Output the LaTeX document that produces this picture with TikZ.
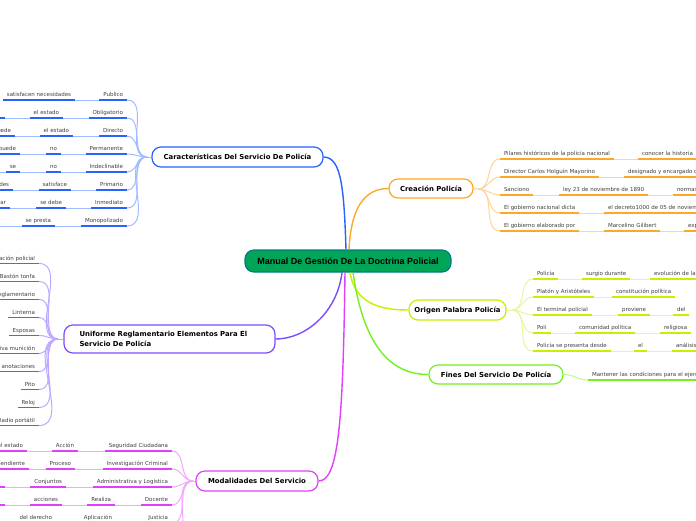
\documentclass[tikz,border=0pt]{standalone}
\usepackage{fontspec}
\usetikzlibrary{calc}
\newfontfamily\lfont{DejaVu Sans}
\newfontfamily\mfont{Liberation Sans}
\definecolor{cblue}{RGB}{41,98,255}
\definecolor{cbluel}{RGB}{160,188,255}
\definecolor{corange}{RGB}{255,167,38}
\definecolor{corangel}{RGB}{255,212,150}
\definecolor{cpurple}{RGB}{124,77,255}
\definecolor{cpurplel}{RGB}{190,168,255}
\definecolor{cmag}{RGB}{224,64,251}
\definecolor{cmagl}{RGB}{242,168,252}
\definecolor{cyel}{RGB}{198,240,0}
\definecolor{cyell}{RGB}{228,248,150}
\definecolor{cgreen}{RGB}{118,240,30}
\definecolor{cgreenl}{RGB}{185,250,140}
\definecolor{mainfill}{RGB}{0,165,88}
\definecolor{maindraw}{RGB}{0,125,135}
\begin{document}
\begin{tikzpicture}[x=1pt,y=-1pt,
  mainnode/.style={rounded corners=9pt, fill=mainfill, draw=maindraw, line width=1.2pt,
    font=\mfont\bfseries\fontsize{9}{10}\selectfont, minimum width=206pt, minimum height=22pt, inner sep=0pt},
  branch/.style={rounded corners=9pt, draw=#1, fill=white, line width=1.2pt,
    font=\lfont\bfseries\fontsize{6.9}{10.5}\selectfont, inner sep=0pt},
  leaf/.style={font=\lfont\fontsize{5.5}{6}\selectfont, text=black!75, inner xsep=4pt, inner ysep=2.3pt,
    text height=4.1pt, text depth=1.2pt, outer sep=0pt,
    append after command={(\tikzlastnode.south west) edge[draw=#1, line width=1.5pt] (\tikzlastnode.south east)}},
  conn/.style={draw=#1, line width=1pt},
  trunk/.style={draw=#1, line width=1.4pt}
]
\useasboundingbox (0,0) rectangle (696,520);
\clip (0,0) rectangle (696,520);
\fill[white] (0,0) rectangle (696,520);

% ---------- main and branch nodes
\node[mainnode] (main) at (348,261) {Manual De Gestión De La Doctrina Policial};
\node[branch=cblue, minimum width=171pt, minimum height=20pt] (car) at (237.5,157) {Características Del Servicio De Policía};
\node[branch=corange, minimum width=84pt, minimum height=19pt] (cre) at (431,188.5) {Creación Policía};
\node[branch=cyel, minimum width=97pt, minimum height=20pt] (ori) at (457.5,310) {Origen Palabra Policía};
\node[branch=cgreen, minimum width=134pt, minimum height=19pt] (fin) at (496,374.5) {Fines Del Servicio De Policía};
\node[branch=cpurple, minimum width=211pt, minimum height=28pt, align=left, text width=180pt] (uni) at (169.5,339) {Uniforme Reglamentario Elementos Para El\\Servicio De Policía};
\node[branch=cmag, minimum width=122pt, minimum height=20pt] (mod) at (257,481) {Modalidades Del Servicio};

% ---------- trunks
\draw[trunk=cblue] ($(main.north)+(-2,0)$) .. controls +(-2,-60) and +(18,0) .. (car.east);
\draw[trunk=corange] ($(main.north)+(1,0)$) .. controls +(2,-40) and +(-25,0) .. (cre.west);
\draw[trunk=cpurple] ($(main.south)+(-6,0)$) .. controls +(-5,40) and +(30,0) .. (uni.east);
\draw[trunk=cmag] ($(main.south)+(-3,0)$) .. controls +(-2,150) and +(20,0) .. (mod.east);
\draw[trunk=cyel] ($(main.south)+(2,0)$) .. controls +(5,30) and +(-30,0) .. (ori.west);
\draw[trunk=cgreen] ($(main.south)+(5,0)$) .. controls +(10,70) and +(-40,0) .. (fin.west);

% ---------- Caracteristicas leaves
\coordinate (jc) at (147,157);
\node[leaf=cblue, anchor=south east] (c1a) at (127,100) {Publico};
\node[leaf=cblue, anchor=south east] (c1b) at (75,100) {satisfacen necesidades};
\node[leaf=cblue, anchor=south east] (c2a) at (127,118) {Obligatorio};
\node[leaf=cblue, anchor=south east] (c2b) at (63,118) {el estado};
\node[leaf=cblue, anchor=south east, minimum width=30pt] (c2c) at (5,118) {};
\node[leaf=cblue, anchor=south east] (c3a) at (127,136) {Directo};
\node[leaf=cblue, anchor=south east] (c3b) at (73,136) {el estado};
\node[leaf=cblue, anchor=south east] (c3c) at (15,136) {puede};
\node[leaf=cblue, anchor=south east] (c4a) at (127,154) {Permanente};
\node[leaf=cblue, anchor=south east] (c4b) at (61,154) {no};
\node[leaf=cblue, anchor=south east] (c4c) at (20,154) {puede};
\node[leaf=cblue, anchor=south east] (c5a) at (127,172) {Indeclinable};
\node[leaf=cblue, anchor=south east] (c5b) at (61,172) {no};
\node[leaf=cblue, anchor=south east] (c5c) at (20,172) {se};
\coordinate (c5d) at (-10,172);
\node[leaf=cblue, anchor=south east] (c6a) at (127,190) {Primario};
\node[leaf=cblue, anchor=south east] (c6b) at (71,190) {satisface};
\node[leaf=cblue, anchor=south east] (c6c) at (13,190) {necesidades};
\node[leaf=cblue, anchor=south east] (c7a) at (127,208) {Inmediato};
\node[leaf=cblue, anchor=south east] (c7b) at (66,208) {se debe};
\node[leaf=cblue, anchor=south east] (c7c) at (10,208) {prestar};
\node[leaf=cblue, anchor=south east] (c8a) at (127,226) {Monopolizado};
\node[leaf=cblue, anchor=south east] (c8b) at (55,226) {se presta};
\coordinate (c8c) at (-10,226);
\draw[conn=cbluel] (car.west) -- (jc);
\foreach \r in {1,...,8} \draw[conn=cbluel] (jc) to[out=180,in=0] (c\r a.south east);
\foreach \a/\b in {c1a/c1b,c2a/c2b,c2b/c2c,c3a/c3b,c3b/c3c,c4a/c4b,c4b/c4c,c5a/c5b,c5b/c5c,c6a/c6b,c6b/c6c,c7a/c7b,c7b/c7c,c8a/c8b}
  \draw[conn=cbluel] (\a.south west) -- (\b.south east);
\draw[conn=cbluel] (c5c.south west) -- (c5d);
\draw[conn=cbluel] (c8b.south west) -- (c8c);

% ---------- Uniforme leaves
\coordinate (ju) at (58,339);
\node[leaf=cpurple, anchor=south east] (u1) at (39,263.5) {Identificación policial};
\node[leaf=cpurple, anchor=south east] (u2) at (39,281.5) {Bastón tonfa};
\node[leaf=cpurple, anchor=south east] (u3) at (39,299.5) {Chaleco reglamentario};
\node[leaf=cpurple, anchor=south east] (u4) at (39,317.5) {Linterna};
\node[leaf=cpurple, anchor=south east] (u5) at (39,335.5) {Esposas};
\node[leaf=cpurple, anchor=south east] (u6) at (39,353.5) {Arma con su respectiva munición};
\node[leaf=cpurple, anchor=south east] (u7) at (39,371.5) {Libreta de anotaciones};
\node[leaf=cpurple, anchor=south east] (u8) at (39,389.5) {Pito};
\node[leaf=cpurple, anchor=south east] (u9) at (39,407.5) {Reloj};
\node[leaf=cpurple, anchor=south east] (u10) at (39,425.5) {Radio portátil};
\draw[conn=cpurplel] (uni.west) -- (ju);
\foreach \r in {1,...,10} \draw[conn=cpurplel] (ju) to[out=180,in=0] (u\r.south east);

% ---------- Modalidades leaves
\coordinate (jm) at (193,481);
\node[leaf=cmag, anchor=south east] (m1a) at (172,451) {Seguridad Ciudadana};
\node[leaf=cmag, anchor=south east] (m1b) at (78,451) {Acción};
\node[leaf=cmag, anchor=south east] (m1c) at (27,451) {el estado};
\node[leaf=cmag, anchor=south east] (m2a) at (172,469) {Investigación Criminal};
\node[leaf=cmag, anchor=south east] (m2b) at (75,469) {Proceso};
\node[leaf=cmag, anchor=south east] (m2c) at (29,469) {independiente};
\node[leaf=cmag, anchor=south east] (m3a) at (172,487) {Administrativa y Logística};
\node[leaf=cmag, anchor=south east] (m3b) at (66,487) {Conjuntos};
\node[leaf=cmag, anchor=south east, minimum width=30pt] (m3c) at (5,487) {};
\node[leaf=cmag, anchor=south east] (m4a) at (172,505) {Docente};
\node[leaf=cmag, anchor=south east] (m4b) at (115,505) {Realiza};
\node[leaf=cmag, anchor=south east] (m4c) at (62,505) {acciones};
\node[leaf=cmag, anchor=south east, minimum width=30pt] (m4d) at (5,505) {};
\node[leaf=cmag, anchor=south east] (m5a) at (172,523) {Justicia};
\node[leaf=cmag, anchor=south east] (m5b) at (116,523) {Aplicación};
\node[leaf=cmag, anchor=south east] (m5c) at (56,523) {del derecho};
\coordinate (m6) at (172,541);
\draw[conn=cmagl] (mod.west) -- (jm);
\foreach \r in {1,...,5} \draw[conn=cmagl] (jm) to[out=180,in=0] (m\r a.south east);
\draw[conn=cmagl] (jm) to[out=180,in=0] (m6);
\foreach \a/\b in {m1a/m1b,m1b/m1c,m2a/m2b,m2b/m2c,m3a/m3b,m3b/m3c,m4a/m4b,m4b/m4c,m4c/m4d,m5a/m5b,m5b/m5c}
  \draw[conn=cmagl] (\a.south west) -- (\b.south east);

% ---------- Creacion leaves
\coordinate (jr) at (478,189);
\node[leaf=corange, anchor=south west] (r1a) at (500,159) {Pilares históricos de la policía nacional};
\node[leaf=corange, anchor=south west] (r1b) at (638,159) {conocer la historia};
\node[leaf=corange, anchor=south west] (r2a) at (500,177) {Director Carlos Holguín Mayorino};
\node[leaf=corange, anchor=south west] (r2b) at (624,177) {designado y encargado de};
\node[leaf=corange, anchor=south west] (r3a) at (500,195) {Sanciono};
\node[leaf=corange, anchor=south west] (r3b) at (559,195) {ley 23 de noviembre de 1890};
\node[leaf=corange, anchor=south west] (r3c) at (673,195) {normas};
\node[leaf=corange, anchor=south west] (r4a) at (500,213) {El gobierno nacional dicta};
\node[leaf=corange, anchor=south west] (r4b) at (604,213) {el decreto1000 de 05 de noviembre};
\node[leaf=corange, anchor=south west] (r5a) at (500,231) {El gobierno elaborado por};
\node[leaf=corange, anchor=south west] (r5b) at (604,231) {Marcelino Gilibert};
\node[leaf=corange, anchor=south west] (r5c) at (684,231) {expidió};
\draw[conn=corangel] (cre.east) -- (jr);
\foreach \r in {1,...,5} \draw[conn=corangel] (jr) to[out=0,in=180] (r\r a.south west);
\foreach \a/\b in {r1a/r1b,r2a/r2b,r3a/r3b,r3b/r3c,r4a/r4b,r5a/r5b,r5b/r5c}
  \draw[conn=corangel] (\a.south east) -- (\b.south west);

% ---------- Origen leaves
\coordinate (jo) at (512,310);
\node[leaf=cyel, anchor=south west] (o1a) at (533,279) {Policía};
\node[leaf=cyel, anchor=south west] (o1b) at (582,279) {surgio durante};
\node[leaf=cyel, anchor=south west] (o1c) at (650,279) {evolución de la institución};
\node[leaf=cyel, anchor=south west] (o2a) at (533,297) {Platón y Aristóteles};
\node[leaf=cyel, anchor=south west] (o2b) at (612,297) {constitución política};
\node[leaf=cyel, anchor=south west] (o3a) at (533,315) {El terminal policial};
\node[leaf=cyel, anchor=south west] (o3b) at (618,315) {proviene};
\node[leaf=cyel, anchor=south west] (o3c) at (673,315) {del};
\node[leaf=cyel, anchor=south west] (o4a) at (533,333) {Poli};
\node[leaf=cyel, anchor=south west] (o4b) at (575,333) {comunidad política};
\node[leaf=cyel, anchor=south west] (o4c) at (660,333) {religiosa};
\node[leaf=cyel, anchor=south west] (o5a) at (533,351) {Policía se presenta desde};
\node[leaf=cyel, anchor=south west] (o5b) at (634,351) {el};
\node[leaf=cyel, anchor=south west] (o5c) at (672,351) {análisis};
\draw[conn=cyell] (ori.east) -- (jo);
\foreach \r in {1,...,5} \draw[conn=cyell] (jo) to[out=0,in=180] (o\r a.south west);
\foreach \a/\b in {o1a/o1b,o1b/o1c,o2a/o2b,o3a/o3b,o3b/o3c,o4a/o4b,o4b/o4c,o5a/o5b,o5b/o5c}
  \draw[conn=cyell] (\a.south east) -- (\b.south west);

% ---------- Fines leaf
\node[leaf=cgreen, anchor=south west] (f1) at (588,380) {Mantener las condiciones para el ejercicio de los derechos};
\draw[conn=cgreenl] (fin.east) to[out=0,in=180] (f1.south west);
\end{tikzpicture}
\end{document}
